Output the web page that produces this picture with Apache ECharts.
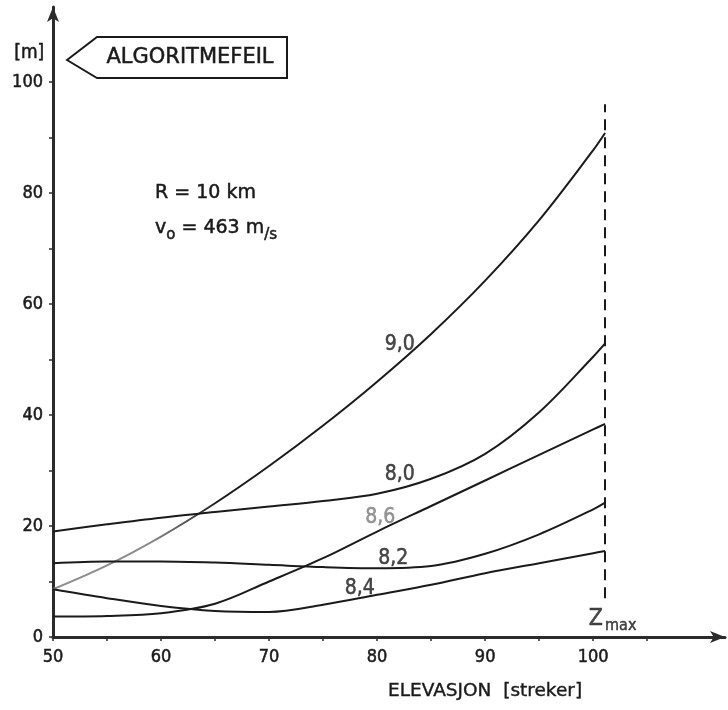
<!DOCTYPE html>
<html>
<head>
<meta charset="utf-8">
<script src="https://cdn.jsdelivr.net/npm/echarts@6/dist/echarts.min.js"></script>
<style>
  html, body { margin: 0; padding: 0; background: #ffffff; }
  #chart { width: 728px; height: 710px; }
</style>
</head>
<body>
<div id="chart"></div>
<script>
// Elevation (streker) at which the algorithm error was evaluated
const elevation = [50, 55, 60, 65, 70, 75, 80, 85, 90, 95, 100, 101.1];

// Algorithm error [m] for each curve parameter
const err90 = [8.6, 12.9, 18.1, 24.1, 30.8, 38.1, 46.0, 54.6, 64.2, 75.1, 87.7, 90.8];
const err80 = [19.0, 20.3, 21.5, 22.5, 23.5, 24.5, 25.8, 28.5, 33.0, 40.5, 50.5, 52.9];
const err86 = [3.7, 3.8, 4.3, 6.0, 10.0, 14.2, 19.0, 23.6, 28.2, 32.8, 37.4, 38.4];
const err82 = [13.3, 13.6, 13.6, 13.4, 13.0, 12.6, 12.4, 12.8, 15.0, 18.5, 23.0, 24.2];
const err84 = [8.6, 7.0, 5.6, 4.7, 4.5, 5.8, 7.6, 9.4, 11.5, 13.3, 15.1, 15.5];

const curveNames = ['9,0', '8,0', '8,6', '8,2', '8,4'];
const curveValues = [err90, err80, err86, err82, err84];
// where each curve's name is written, in (elevation, error) units
const curveLabelAt = [[82.1, 52.6], [82.1, 29.2], [80.3, 21.6], [81.5, 14.2], [78.4, 8.8]];

// maximum elevation
const zMax = 101.1;

// axis ticks and labels
const xTickLabels = [50, 60, 70, 80, 90, 100];
const xTicks = [50, 55, 60, 65, 70, 75, 80, 85, 90, 95, 100, 105];
const yTickLabels = [0, 20, 40, 60, 80, 100];
const yTicks = [0, 10, 20, 30, 40, 50, 60, 70, 80, 90, 100];

const INK = '#1a1a1a';
const LABEL_FONT = "'DejaVu Sans Condensed', 'DejaVu Sans', sans-serif";
const TEXT_FONT = "'DejaVu Sans', sans-serif";
// slight stroke around glyphs to give the heavier, copied-print look
const HEAVY = { textBorderColor: '#1a1a1a', textBorderWidth: 0.5 };

const chart = echarts.init(document.getElementById('chart'), null, { renderer: 'canvas' });

const lineSeries = curveValues.map((vals, i) => ({
  name: curveNames[i],
  type: 'line',
  smooth: 0.35,
  showSymbol: false,
  silent: true,
  data: elevation.map((x, k) => [x, vals[k]]),
  lineStyle: {
    width: 2,
    color: i === 0
      ? new echarts.graphic.LinearGradient(0, 0, 1, 0, [
          { offset: 0, color: '#8c8c8c' },
          { offset: 0.18, color: '#8c8c8c' },
          { offset: 0.3, color: INK },
          { offset: 1, color: INK }
        ])
      : INK
  },
  markLine: i === 0 ? {
    symbol: 'none',
    silent: true,
    label: { show: false },
    lineStyle: { type: [11, 7], width: 2, color: INK },
    data: [[{ coord: [zMax, 7] }, { coord: [zMax, 96] }]]
  } : undefined
}));

const labelSeries = {
  type: 'scatter',
  symbolSize: 0,
  silent: true,
  data: curveLabelAt.map((p, i) => {
    const grey = curveNames[i] === '8,6';
    return {
      value: [p[0], p[1], curveNames[i]],
      label: grey
        ? { color: '#7a7a7a', textBorderColor: '#7a7a7a' }
        : { color: INK, textBorderColor: INK }
    };
  }),
  label: Object.assign({
    show: true,
    position: 'inside',
    formatter: p => p.value[2],
    fontFamily: LABEL_FONT,
    fontSize: 21
  }, HEAVY)
};

const zMaxSeries = {
  type: 'scatter',
  symbolSize: 0,
  silent: true,
  data: [[zMax + 0.7, 3.0]],
  label: {
    show: true,
    position: 'inside',
    formatter: '{z|Z}{s|max}',
    rich: {
      z: Object.assign({ fontFamily: LABEL_FONT, fontSize: 23, color: INK, lineHeight: 26, verticalAlign: 'top' }, HEAVY),
      s: Object.assign({ fontFamily: LABEL_FONT, fontSize: 16, color: INK, lineHeight: 26, verticalAlign: 'bottom', padding: [10, 0, 0, 2] }, HEAVY)
    }
  }
};

const axisLabelStyle = Object.assign({
  fontSize: 18,
  fontFamily: LABEL_FONT,
  color: INK
}, HEAVY);

chart.setOption({
  backgroundColor: '#ffffff',
  animation: false,
  grid: { left: 53, right: 3, top: 7, bottom: 73, containLabel: false },
  xAxis: {
    type: 'value',
    min: 50,
    max: 112.2,
    splitLine: { show: false },
    axisLine: {
      lineStyle: { color: '#2b2b2b', width: 3 },
      symbol: ['none', 'arrow'],
      symbolSize: [9, 15]
    },
    axisTick: { show: true, customValues: xTicks, length: 4, lineStyle: { color: '#2b2b2b', width: 1.5 } },
    axisLabel: Object.assign({ customValues: xTickLabels, margin: 11 }, axisLabelStyle)
  },
  yAxis: {
    type: 'value',
    min: 0,
    max: 113.5,
    splitLine: { show: false },
    axisLine: {
      lineStyle: { color: '#2b2b2b', width: 3 },
      symbol: ['none', 'arrow'],
      symbolSize: [9, 15]
    },
    axisTick: { show: true, customValues: yTicks, length: 4, lineStyle: { color: '#2b2b2b', width: 1.5 } },
    axisLabel: Object.assign({ customValues: yTickLabels, margin: 10 }, axisLabelStyle)
  },
  series: [...lineSeries, labelSeries, zMaxSeries],
  graphic: [
    {
      type: 'text', left: 14, top: 43,
      style: Object.assign({ text: '[m]', fontFamily: LABEL_FONT, fontSize: 19, fill: INK, stroke: INK, lineWidth: 0.5 })
    },
    {
      type: 'polygon',
      shape: { points: [[67, 60], [97, 37], [287, 37], [287, 78], [97, 78]] },
      style: { fill: 'none', stroke: INK, lineWidth: 2 }
    },
    {
      type: 'text', x: 190, y: 58,
      style: {
        text: 'ALGORITMEFEIL', fontFamily: TEXT_FONT, fontSize: 21, fill: INK, stroke: INK, lineWidth: 0.5,
        align: 'center', verticalAlign: 'middle'
      }
    },
    {
      type: 'text', x: 155, y: 193,
      style: {
        text: 'R = 10 km', fontFamily: TEXT_FONT, fontSize: 19, fill: INK, stroke: INK, lineWidth: 0.5,
        verticalAlign: 'middle'
      }
    },
    {
      type: 'text', x: 155, y: 231,
      style: {
        text: '{a|v}{o|o}{a| = 463 m}{o|/s}',
        verticalAlign: 'middle',
        rich: {
          a: { fontFamily: TEXT_FONT, fontSize: 19, fill: INK, stroke: INK, lineWidth: 0.5, lineHeight: 24, verticalAlign: 'top' },
          o: { fontFamily: TEXT_FONT, fontSize: 15, fill: INK, stroke: INK, lineWidth: 0.5, lineHeight: 24, verticalAlign: 'bottom', padding: [8, 0, 0, 0] }
        }
      }
    },
    {
      type: 'text', x: 388, y: 691,
      style: {
        text: 'ELEVASJON  [streker]', fontFamily: TEXT_FONT, fontSize: 18.5, fill: INK, stroke: INK, lineWidth: 0.4,
        verticalAlign: 'middle'
      }
    }
  ]
});
</script>
</body>
</html>
